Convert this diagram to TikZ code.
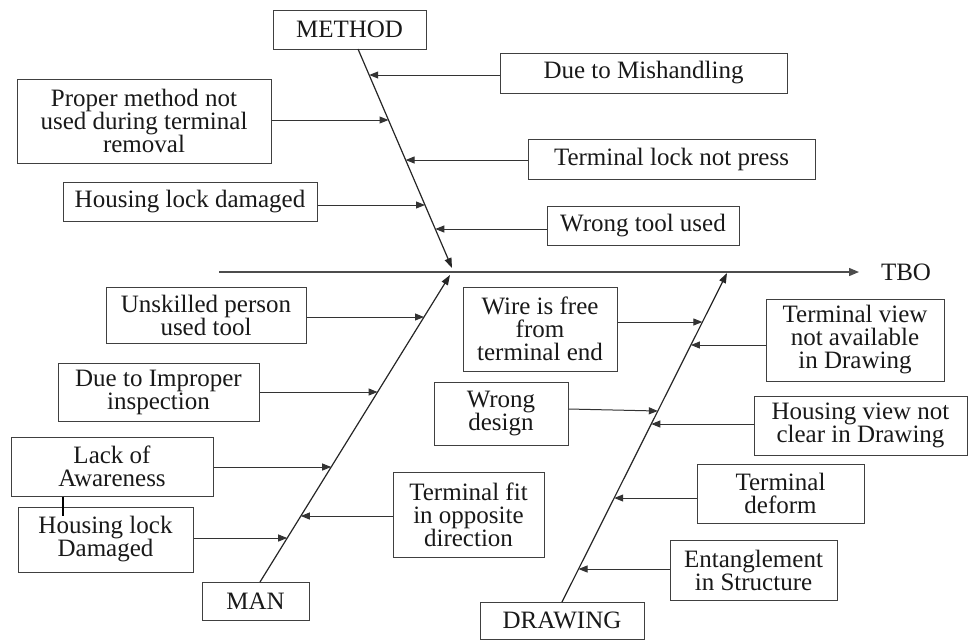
\documentclass[tikz,border=0pt]{standalone}
\usepackage{fontspec}
\setmainfont{Liberation Serif}
\usetikzlibrary{arrows.meta}
\begin{document}
\begin{tikzpicture}[x=1pt,y=-1pt,
  box/.style={draw=black!75, line width=1pt, inner sep=0pt, align=center,
    font=\fontsize{25}{23}\selectfont, text=black!90},
  bone/.style={draw=black!85, line width=1.2pt},
  arr/.style={draw=black!80, line width=1pt, -{Triangle[length=9pt,width=7pt]}},
  spine/.style={draw=black!70, line width=1.3pt, -{Triangle[length=10pt,width=8pt]}}]
\useasboundingbox (0,0) rectangle (968,641);
% boxes
\node[box, minimum width=153pt, minimum height=39pt] (method) at (349.5,29.5) {METHOD};
\node[box, minimum width=287pt, minimum height=40pt] (mish) at (643.5,73) {Due to Mishandling};
\node[box, minimum width=254pt, minimum height=84pt] (proper) at (144,121) {Proper method not\\used during terminal\\removal};
\node[box, minimum width=287pt, minimum height=40pt] (tlock) at (671.5,159) {Terminal lock not press};
\node[box, minimum width=254pt, minimum height=39pt] (hlock) at (190,201.5) {Housing lock damaged};
\node[box, minimum width=192pt, minimum height=39pt] (wtool) at (643,225.5) {Wrong tool used};
\node[box, minimum width=200pt, minimum height=56pt] (unsk) at (206,315) {Unskilled person\\used tool};
\node[box, minimum width=201pt, minimum height=58pt] (improper) at (158.5,392) {Due to Improper\\inspection};
\node[box, minimum width=202pt, minimum height=59pt] (lack) at (112,466.5) {Lack of\\Awareness};
\node[box, minimum width=175pt, minimum height=65pt] (hlockb) at (105.5,539.5) {Housing lock\\Damaged};
\node[box, minimum width=151pt, minimum height=85pt] (tfit) at (468.5,514.5) {Terminal fit\\in opposite\\direction};
\node[box, minimum width=107pt, minimum height=38pt] (man) at (255.5,601) {MAN};
\node[box, minimum width=154pt, minimum height=84pt] (wire) at (540,329) {Wire is free\\from\\terminal end};
\node[box, minimum width=134pt, minimum height=63pt] (wdesign) at (501,413.5) {Wrong\\design};
\node[box, minimum width=178pt, minimum height=82pt] (tview) at (855,340) {Terminal view\\not available\\in Drawing};
\node[box, minimum width=213pt, minimum height=59pt] (hview) at (860.5,425.5) {Housing view not\\clear in Drawing};
\node[box, minimum width=167pt, minimum height=59pt] (tdeform) at (780.5,493.5) {Terminal\\deform};
\node[box, minimum width=167pt, minimum height=60pt] (entang) at (753.5,570) {Entanglement\\in Structure};
\node[box, minimum width=164pt, minimum height=37pt] (drawing) at (562,620.5) {DRAWING};
\node[font=\fontsize{25}{23}\selectfont, text=black!90, inner sep=0pt] (tbo) at (906,272) {TBO};
% spine
\coordinate (sl) at (219,272);
\coordinate (se) at (859,272);
\draw[spine] (sl) -- (se);
% bones
\coordinate (mtop) at (358,49);
\coordinate (hubM) at (452,268);
\coordinate (mbot) at (260,582);
\coordinate (hubN) at (450,275);
\coordinate (dbot) at (562,602);
\coordinate (hubD) at (727,273);
\draw[bone, -{Triangle[length=10pt,width=7pt]}] (mtop) -- (hubM);
\draw[bone, -{Triangle[length=10pt,width=7pt]}] (mbot) -- (hubN);
\draw[bone, -{Triangle[length=10pt,width=7pt]}] (dbot) -- (hubD);
% method bone points
\coordinate (m1) at (369.2,75);
\coordinate (m2) at (388.5,120);
\coordinate (m3) at (405.6,160);
\coordinate (m4) at (425.0,205);
\coordinate (m5) at (435.3,229);
\draw[arr] (mish.west |- m1) -- (m1);
\draw[arr] (proper.east |- m2) -- (m2);
\draw[arr] (tlock.west |- m3) -- (m3);
\draw[arr] (hlock.east |- m4) -- (m4);
\draw[arr] (wtool.west |- m5) -- (m5);
% man bone points
\coordinate (n1) at (424.0,317);
\coordinate (n2) at (377.6,392);
\coordinate (n3) at (331.2,467);
\coordinate (n4) at (287.2,538);
\coordinate (n5) at (300.8,516);
\draw[arr] (unsk.east |- n1) -- (n1);
\draw[arr] (improper.east |- n2) -- (n2);
\draw[arr] (lack.east |- n3) -- (n3);
\draw[arr] (hlockb.east |- n4) -- (n4);
\draw[arr] (tfit.west |- n5) -- (n5);
% drawing bone points
\coordinate (d1) at (702.4,322);
\coordinate (d2) at (690.9,345);
\coordinate (d3) at (657.8,411);
\coordinate (d4) at (651.3,424);
\coordinate (d5) at (614.2,498);
\coordinate (d6) at (578.5,569);
\coordinate (d3s) at (568,409);
\draw[arr] (wire.east |- d1) -- (d1);
\draw[arr] (tview.west |- d2) -- (d2);
\draw[arr] (wdesign.east |- d3s) -- (d3);
\draw[arr] (hview.west |- d4) -- (d4);
\draw[arr] (tdeform.west |- d5) -- (d5);
\draw[arr] (entang.west |- d6) -- (d6);
% small tick between Lack of Awareness and Housing lock
\coordinate (tk) at (63,516);
\draw[line width=2pt] (lack.south -| tk) -- (tk);
\end{tikzpicture}
\end{document}
